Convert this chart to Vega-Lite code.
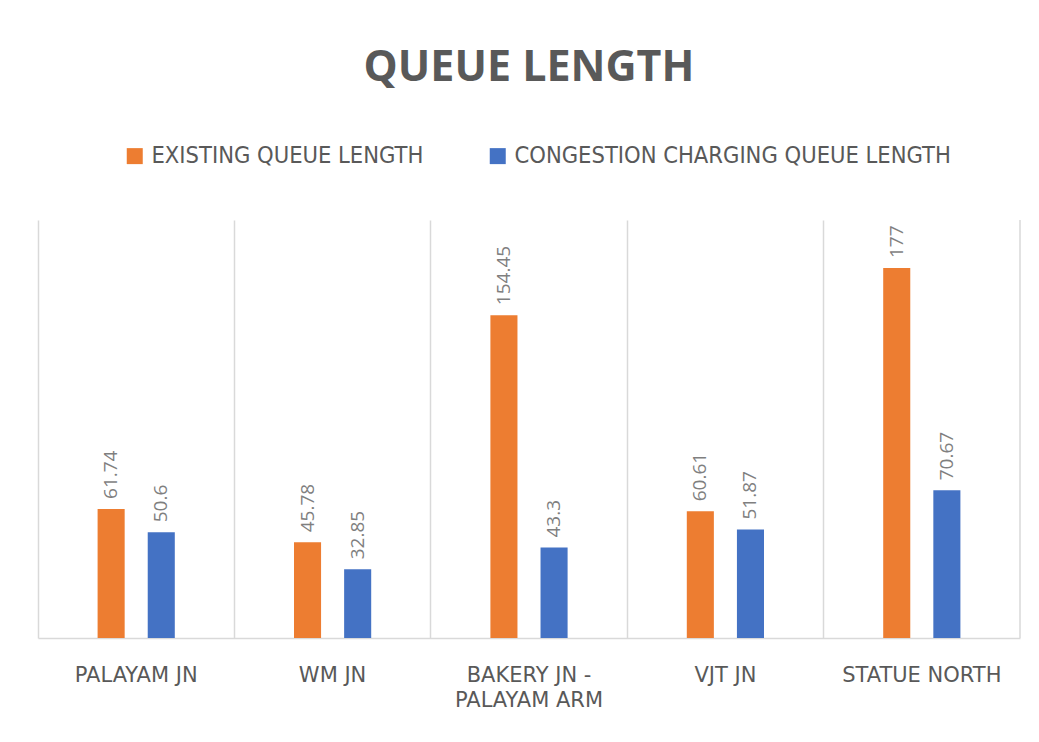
{
  "$schema": "https://vega.github.io/schema/vega-lite/v6.json",
  "width": 982,
  "height": 418,
  "autosize": {"type": "none"},
  "padding": {"left": 38, "top": 220, "right": 19, "bottom": 104},
  "background": "white",
  "config": {"view": {"stroke": null}},
  "title": {
    "text": "QUEUE LENGTH",
    "font": "Open Sans",
    "fontSize": 43,
    "fontWeight": "bold",
    "color": "#595959",
    "anchor": "middle",
    "offset": 54
  },
  "data": {
    "values": [
      {"junction": "PALAYAM JN", "series": "EXISTING QUEUE LENGTH", "value": 61.74},
      {"junction": "PALAYAM JN", "series": "CONGESTION CHARGING QUEUE LENGTH", "value": 50.6},
      {"junction": "WM JN", "series": "EXISTING QUEUE LENGTH", "value": 45.78},
      {"junction": "WM JN", "series": "CONGESTION CHARGING QUEUE LENGTH", "value": 32.85},
      {"junction": "BAKERY JN - PALAYAM ARM", "series": "EXISTING QUEUE LENGTH", "value": 154.45},
      {"junction": "BAKERY JN - PALAYAM ARM", "series": "CONGESTION CHARGING QUEUE LENGTH", "value": 43.3},
      {"junction": "VJT JN", "series": "EXISTING QUEUE LENGTH", "value": 60.61},
      {"junction": "VJT JN", "series": "CONGESTION CHARGING QUEUE LENGTH", "value": 51.87},
      {"junction": "STATUE NORTH", "series": "EXISTING QUEUE LENGTH", "value": 177},
      {"junction": "STATUE NORTH", "series": "CONGESTION CHARGING QUEUE LENGTH", "value": 70.67}
    ]
  },
  "encoding": {
    "x": {
      "field": "junction",
      "type": "nominal",
      "sort": null,
      "scale": {"paddingInner": 0, "paddingOuter": 0},
      "axis": {
        "title": null,
        "labelAngle": 0,
        "labelFont": "DejaVu Sans",
        "labelFontSize": 21,
        "labelColor": "#595959",
        "labelPadding": 26,
        "labelLineHeight": 25,
        "labelBaseline": "top",
        "labelExpr": "datum.value == 'BAKERY JN - PALAYAM ARM' ? ['BAKERY JN -', 'PALAYAM ARM'] : datum.value",
        "ticks": false,
        "domain": true,
        "domainColor": "#d9d9d9",
        "domainWidth": 1.5,
        "grid": true,
        "gridColor": "#d9d9d9",
        "gridWidth": 1.5,
        "bandPosition": 0
      }
    },
    "y": {
      "field": "value",
      "type": "quantitative",
      "scale": {"domain": [0, 200], "nice": false},
      "axis": null
    }
  },
  "layer": [
    {
      "mark": {"type": "bar"},
      "encoding": {
        "xOffset": {
          "field": "series",
          "type": "nominal",
          "sort": ["EXISTING QUEUE LENGTH", "CONGESTION CHARGING QUEUE LENGTH"],
          "scale": {"paddingInner": 0.46, "paddingOuter": 0, "range": [59.6, 136.8]}
        },
        "color": {
          "field": "series",
          "type": "nominal",
          "sort": ["EXISTING QUEUE LENGTH", "CONGESTION CHARGING QUEUE LENGTH"],
          "scale": {
            "domain": ["EXISTING QUEUE LENGTH", "CONGESTION CHARGING QUEUE LENGTH"],
            "range": ["#ED7D31", "#4472C4"]
          },
          "legend": {
            "title": null,
            "orient": "none",
            "direction": "horizontal",
            "legendX": 85,
            "legendY": -76,
            "padding": 0,
            "symbolType": "square",
            "symbolSize": 256,
            "symbolStrokeWidth": 0,
            "symbolOpacity": 1,
            "labelFont": "DejaVu Sans Condensed",
            "labelFontSize": 23.5,
            "labelColor": "#595959",
            "labelLimit": 500,
            "labelOffset": 5,
            "columnPadding": 62
          }
        }
      }
    },
    {
      "mark": {
        "type": "text",
        "angle": 270,
        "align": "left",
        "baseline": "middle",
        "dx": 10,
        "font": "Open Sans",
        "fontSize": 19,
        "color": "#7f7f7f"
      },
      "encoding": {
        "xOffset": {
          "field": "series",
          "type": "nominal",
          "sort": ["EXISTING QUEUE LENGTH", "CONGESTION CHARGING QUEUE LENGTH"]
        },
        "text": {"field": "value", "type": "quantitative"}
      }
    },
    {
      "data": {"values": [{"junction": "STATUE NORTH", "lo": 0, "hi": 200}]},
      "mark": {"type": "rule", "color": "#d9d9d9", "strokeWidth": 1.5},
      "encoding": {
        "x": {"field": "junction", "type": "nominal", "sort": null, "bandPosition": 1},
        "y": {"field": "lo", "type": "quantitative"},
        "y2": {"field": "hi"}
      }
    }
  ]
}
